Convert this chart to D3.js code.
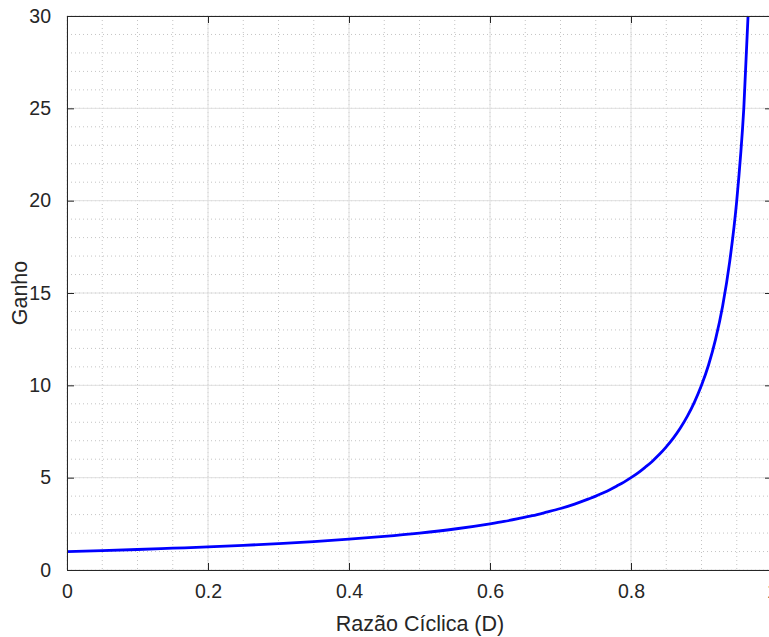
<!DOCTYPE html>
<html>
<head>
<meta charset="utf-8">
<script src="https://cdn.jsdelivr.net/npm/d3@7"></script>
<style>
  body { margin: 0; background: #fff; }
  svg { display: block; font-family: "Liberation Sans", Arial, sans-serif; }
</style>
</head>
<body>
<div id="chart"></div>
<script>
// duty cycle D and gain
const dutyCycle = [0, 0.05, 0.1, 0.15, 0.2, 0.25, 0.3, 0.35, 0.4, 0.45, 0.5, 0.55, 0.6,
                   0.62, 0.64, 0.66, 0.68, 0.7, 0.72, 0.74, 0.75, 0.76, 0.77, 0.78, 0.79, 0.8,
                   0.81, 0.82, 0.83, 0.84, 0.85, 0.86, 0.87, 0.88, 0.89,
                   0.9, 0.91, 0.92, 0.93, 0.94, 0.95, 0.96, 0.97];
const gain = [1, 1.05, 1.11, 1.18, 1.25, 1.33, 1.43, 1.54, 1.67, 1.82, 2.0, 2.22, 2.5,
              2.63, 2.78, 2.94, 3.13, 3.33, 3.57, 3.85, 4.0, 4.17, 4.35, 4.55, 4.76, 5.0,
              5.26, 5.56, 5.88, 6.25, 6.67, 7.14, 7.69, 8.33, 9.09,
              10.0, 11.1, 12.5, 14.3, 16.7, 20.0, 25.0, 33.3];
const xTicks = [0, 0.2, 0.4, 0.6, 0.8, 1];
const yTicks = [0, 5, 10, 15, 20, 25, 30];
const xMinor = d3.range(0, 1.0001, 0.05);
const yMinor = d3.range(0, 30.001, 1);

const width = 769, height = 637;
const margin = {top: 16, right: -3, bottom: 67, left: 67};
const w = width - margin.left - margin.right;
const h = height - margin.top - margin.bottom;

const x = d3.scaleLinear().domain([0, 1]).range([0, w]);
const y = d3.scaleLinear().domain([0, 30]).range([h, 0]);

const svg = d3.select('#chart').append('svg')
  .attr('width', width)
  .attr('height', height);
const g = svg.append('g')
  .attr('transform', `translate(${margin.left},${margin.top})`);

svg.append('defs').append('clipPath').attr('id', 'clip')
  .append('rect').attr('width', w).attr('height', h);

// minor grid (dotted)
g.append('g').selectAll('line').data(xMinor)
  .join('line')
    .attr('x1', d => x(d)).attr('x2', d => x(d))
    .attr('y1', 0).attr('y2', h)
    .attr('stroke', '#c4c4c4').attr('stroke-dasharray', '1,3');
g.append('g').selectAll('line').data(yMinor)
  .join('line')
    .attr('y1', d => y(d)).attr('y2', d => y(d))
    .attr('x1', 0).attr('x2', w)
    .attr('stroke', '#c4c4c4').attr('stroke-dasharray', '1,3');

// major grid
g.append('g').selectAll('line').data(xTicks)
  .join('line')
    .attr('x1', d => x(d)).attr('x2', d => x(d))
    .attr('y1', 0).attr('y2', h)
    .attr('stroke', '#e0e0e0');
g.append('g').selectAll('line').data(yTicks)
  .join('line')
    .attr('y1', d => y(d)).attr('y2', d => y(d))
    .attr('x1', 0).attr('x2', w)
    .attr('stroke', '#e0e0e0');

// curve
const line = d3.line()
  .x((d, i) => x(dutyCycle[i]))
  .y(d => y(d))
  .curve(d3.curveMonotoneX);
g.append('path')
  .datum(gain)
  .attr('clip-path', 'url(#clip)')
  .attr('fill', 'none')
  .attr('stroke', '#0000ff')
  .attr('stroke-width', 2.8)
  .attr('stroke-linejoin', 'round')
  .attr('d', line);

// axes (ticks inside, like matlab)
const fmt = d => String(d);
const styleAxis = sel => {
  sel.select('.domain').attr('stroke', '#262626');
  sel.selectAll('.tick line').attr('stroke', '#262626');
  sel.selectAll('.tick text').attr('fill', '#262626').attr('font-size', '19.5px')
    .attr('font-family', '"Liberation Sans", Arial, sans-serif');
};

g.append('g')
  .attr('transform', `translate(0,${h})`)
  .call(d3.axisBottom(x).tickValues(xTicks).tickFormat(fmt).tickSizeInner(-7).tickSizeOuter(0).tickPadding(14))
  .call(styleAxis);
g.append('g')
  .call(d3.axisTop(x).tickValues(xTicks).tickFormat('').tickSizeInner(-7).tickSizeOuter(0))
  .call(styleAxis);
g.append('g')
  .call(d3.axisLeft(y).tickValues(yTicks).tickFormat(fmt).tickSizeInner(-7).tickSizeOuter(0).tickPadding(16))
  .call(styleAxis);
g.append('g')
  .attr('transform', `translate(${w},0)`)
  .call(d3.axisRight(y).tickValues(yTicks).tickFormat('').tickSizeInner(-7).tickSizeOuter(0))
  .call(styleAxis);

// labels
g.append('text')
  .attr('x', 420 - margin.left)
  .attr('y', h + 61)
  .attr('text-anchor', 'middle')
  .attr('fill', '#262626')
  .attr('font-size', '21.5px')
  .text('Razão Cíclica (D)');

g.append('text')
  .attr('transform', `translate(${27 - margin.left},${293 - margin.top}) rotate(-90)`)
  .attr('text-anchor', 'middle')
  .attr('fill', '#262626')
  .attr('font-size', '21.5px')
  .text('Ganho');
</script>
</body>
</html>
